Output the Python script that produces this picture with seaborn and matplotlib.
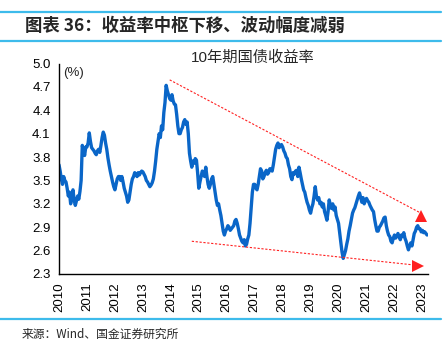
import numpy as np
import pandas as pd
import matplotlib
matplotlib.use("Agg")
import matplotlib.pyplot as plt
import seaborn as sns
from matplotlib.lines import Line2D

sns.set_theme(style="white")
plt.rcParams['font.family'] = ['Liberation Sans', 'Noto Sans CJK SC', 'DejaVu Sans']

# ---- data (semi-monthly) ----
start_year = 2010
yield_2010 = [3.70, 3.62, 3.52, 3.45, 3.55, 3.50, 3.48, 3.40, 3.30, 3.35, 3.20, 3.28,
              3.38, 3.25, 3.18, 3.24, 3.30, 3.26, 3.36, 3.50, 3.95, 3.88, 3.82, 3.93]
yield_2011 = [3.93, 3.98, 4.11, 4.00, 3.92, 3.90, 3.88, 3.85, 3.83, 3.88, 3.90, 3.86,
              3.95, 4.05, 4.12, 4.08, 3.98, 3.90, 3.79, 3.70, 3.62, 3.55, 3.48, 3.42]
yield_2012 = [3.38, 3.45, 3.52, 3.55, 3.55, 3.50, 3.55, 3.48, 3.40, 3.35, 3.30, 3.22,
              3.25, 3.35, 3.45, 3.52, 3.55, 3.60, 3.58, 3.55, 3.60, 3.57, 3.60, 3.62]
yield_2013 = [3.61, 3.58, 3.55, 3.50, 3.48, 3.45, 3.42, 3.44, 3.47, 3.52, 3.62, 3.75,
              3.90, 4.00, 4.10, 4.05, 4.20, 4.15, 4.37, 4.50, 4.72, 4.65, 4.60, 4.55]
yield_2014 = [4.53, 4.60, 4.52, 4.48, 4.47, 4.35, 4.20, 4.10, 4.10, 4.15, 4.18, 4.25,
              4.28, 4.22, 4.25, 4.10, 3.85, 3.75, 3.67, 3.75, 3.72, 3.78, 3.76, 3.60]
yield_2015 = [3.40, 3.48, 3.55, 3.62, 3.60, 3.55, 3.67, 3.55, 3.45, 3.40, 3.45, 3.52,
              3.55, 3.45, 3.35, 3.25, 3.18, 3.20, 3.12, 3.05, 2.95, 2.85, 2.80, 2.85]
yield_2016 = [2.88, 2.92, 2.90, 2.86, 2.88, 2.90, 2.92, 2.98, 3.00, 2.95, 2.88, 2.80,
              2.76, 2.72, 2.70, 2.74, 2.66, 2.68, 2.75, 2.80, 2.95, 3.15, 3.35, 3.45]
yield_2017 = [3.45, 3.40, 3.38, 3.45, 3.55, 3.65, 3.62, 3.52, 3.55, 3.60, 3.63, 3.58,
              3.60, 3.65, 3.65, 3.62, 3.70, 3.80, 3.90, 3.95, 3.98, 3.92, 3.95, 3.96]
yield_2018 = [3.93, 3.88, 3.85, 3.80, 3.78, 3.70, 3.65, 3.55, 3.51, 3.60, 3.58, 3.62,
              3.63, 3.55, 3.67, 3.60, 3.52, 3.45, 3.38, 3.35, 3.28, 3.22, 3.18, 3.12]
yield_2019 = [3.08, 3.15, 3.20, 3.30, 3.42, 3.30, 3.25, 3.28, 3.20, 3.22, 3.16, 3.20,
              3.10, 3.05, 2.99, 3.10, 3.25, 3.18, 3.14, 3.20, 3.12, 3.16, 3.05, 3.00]
yield_2020 = [2.95, 2.82, 2.70, 2.58, 2.50, 2.55, 2.60, 2.68, 2.75, 2.85, 2.92, 3.00,
              3.08, 3.12, 3.15, 3.20, 3.25, 3.30, 3.34, 3.28, 3.22, 3.28, 3.20, 3.24]
yield_2021 = [3.27, 3.24, 3.22, 3.18, 3.15, 3.12, 3.10, 3.00, 2.92, 2.85, 2.85, 2.90,
              2.92, 2.95, 2.98, 3.02, 3.03, 2.92, 2.85, 2.80, 2.78, 2.72, 2.70, 2.76]
yield_2022 = [2.80, 2.76, 2.78, 2.82, 2.78, 2.74, 2.80, 2.78, 2.83, 2.76, 2.72, 2.66,
              2.61, 2.66, 2.70, 2.66, 2.74, 2.82, 2.85, 2.90, 2.92, 2.88, 2.88, 2.84]
yield_2023 = [2.86, 2.83, 2.84, 2.82, 2.80]

year_ticks = list(range(2010, 2024))
y_ticks = [2.3, 2.6, 2.9, 3.2, 3.5, 3.8, 4.1, 4.4, 4.7, 5.0]

# trend annotations (year, value)
upper_trend_x = [2013.96, 2022.95]
upper_trend_y = [4.79, 3.08]
lower_trend_x = [2014.75, 2022.85]
lower_trend_y = [2.72, 2.41]

title = "图表 36：收益率中枢下移、波动幅度减弱"
chart_title = "10年期国债收益率"
unit_label = "(%)"
source = "来源：Wind、国金证券研究所"

values = (yield_2010 + yield_2011 + yield_2012 + yield_2013 + yield_2014 + yield_2015 +
          yield_2016 + yield_2017 + yield_2018 + yield_2019 + yield_2020 + yield_2021 +
          yield_2022 + yield_2023)
t = [start_year + i / 24 for i in range(len(values))]
df = pd.DataFrame({"t": t, "y": values})

W, H = 448, 342
fig = plt.figure(figsize=(W / 100, H / 100), dpi=100)
ax = fig.add_axes([59 / W, 1 - 274 / H, (428 - 59) / W, (274 - 63.5) / H])

sns.lineplot(data=df, x="t", y="y", ax=ax, color="#0A66C8", linewidth=2.4)

red = "#FF2020"
ax.plot(upper_trend_x, upper_trend_y, color=red, lw=0.8, ls=(0, (2, 1.5)))
ax.plot(lower_trend_x, lower_trend_y, color=red, lw=0.8, ls=(0, (2, 1.5)))
ax.plot([upper_trend_x[1]], [upper_trend_y[1] - 0.03], marker="^", color=red, ms=9, mew=0)
ax.plot([lower_trend_x[1]], [lower_trend_y[1] - 0.01], marker=">", color=red, ms=9, mew=0)

ax.set_xlim(2010, 2023.2)
ax.set_ylim(2.3, 5.0)
ax.set_xticks(year_ticks)
ax.set_xticklabels([str(y) for y in year_ticks], rotation=90, fontsize=9.5, color="black")
ax.set_yticks(y_ticks)
ax.set_yticklabels([f"{v:.1f}" for v in y_ticks], fontsize=9.5, color="black")
ax.set_xlabel("")
ax.set_ylabel("")
for s in ["top", "right"]:
    ax.spines[s].set_visible(False)
for s in ["left", "bottom"]:
    ax.spines[s].set_color("black")
    ax.spines[s].set_linewidth(1.0)
ax.tick_params(axis="both", direction="out", length=4, width=1, color="black", pad=2)
ax.grid(False)

ax.text(0.012, 0.985, unit_label, transform=ax.transAxes, ha="left", va="top", fontsize=9.5)
fig.text(253 / W, 1 - 58 / H, chart_title, ha="center", va="center", fontsize=11,
         family=['Liberation Sans', 'Noto Sans CJK SC'])

# header / footer rules
line_c = "#3DBBEB"
for yy in [12, 41, 319]:
    fig.add_artist(Line2D([0, 441 / W], [1 - yy / H] * 2, color=line_c, lw=1.6))

fig.text(25 / W, 1 - 26 / H, title, ha="left", va="center", fontsize=12.5, fontweight="bold",
         style="italic", family=['Noto Sans CJK SC', 'DejaVu Sans'])
fig.text(22 / W, 1 - 334 / H, source, ha="left", va="center", fontsize=8.5,
         family=['Noto Sans CJK SC', 'DejaVu Sans'])

fig.savefig("out.png", dpi=100)
